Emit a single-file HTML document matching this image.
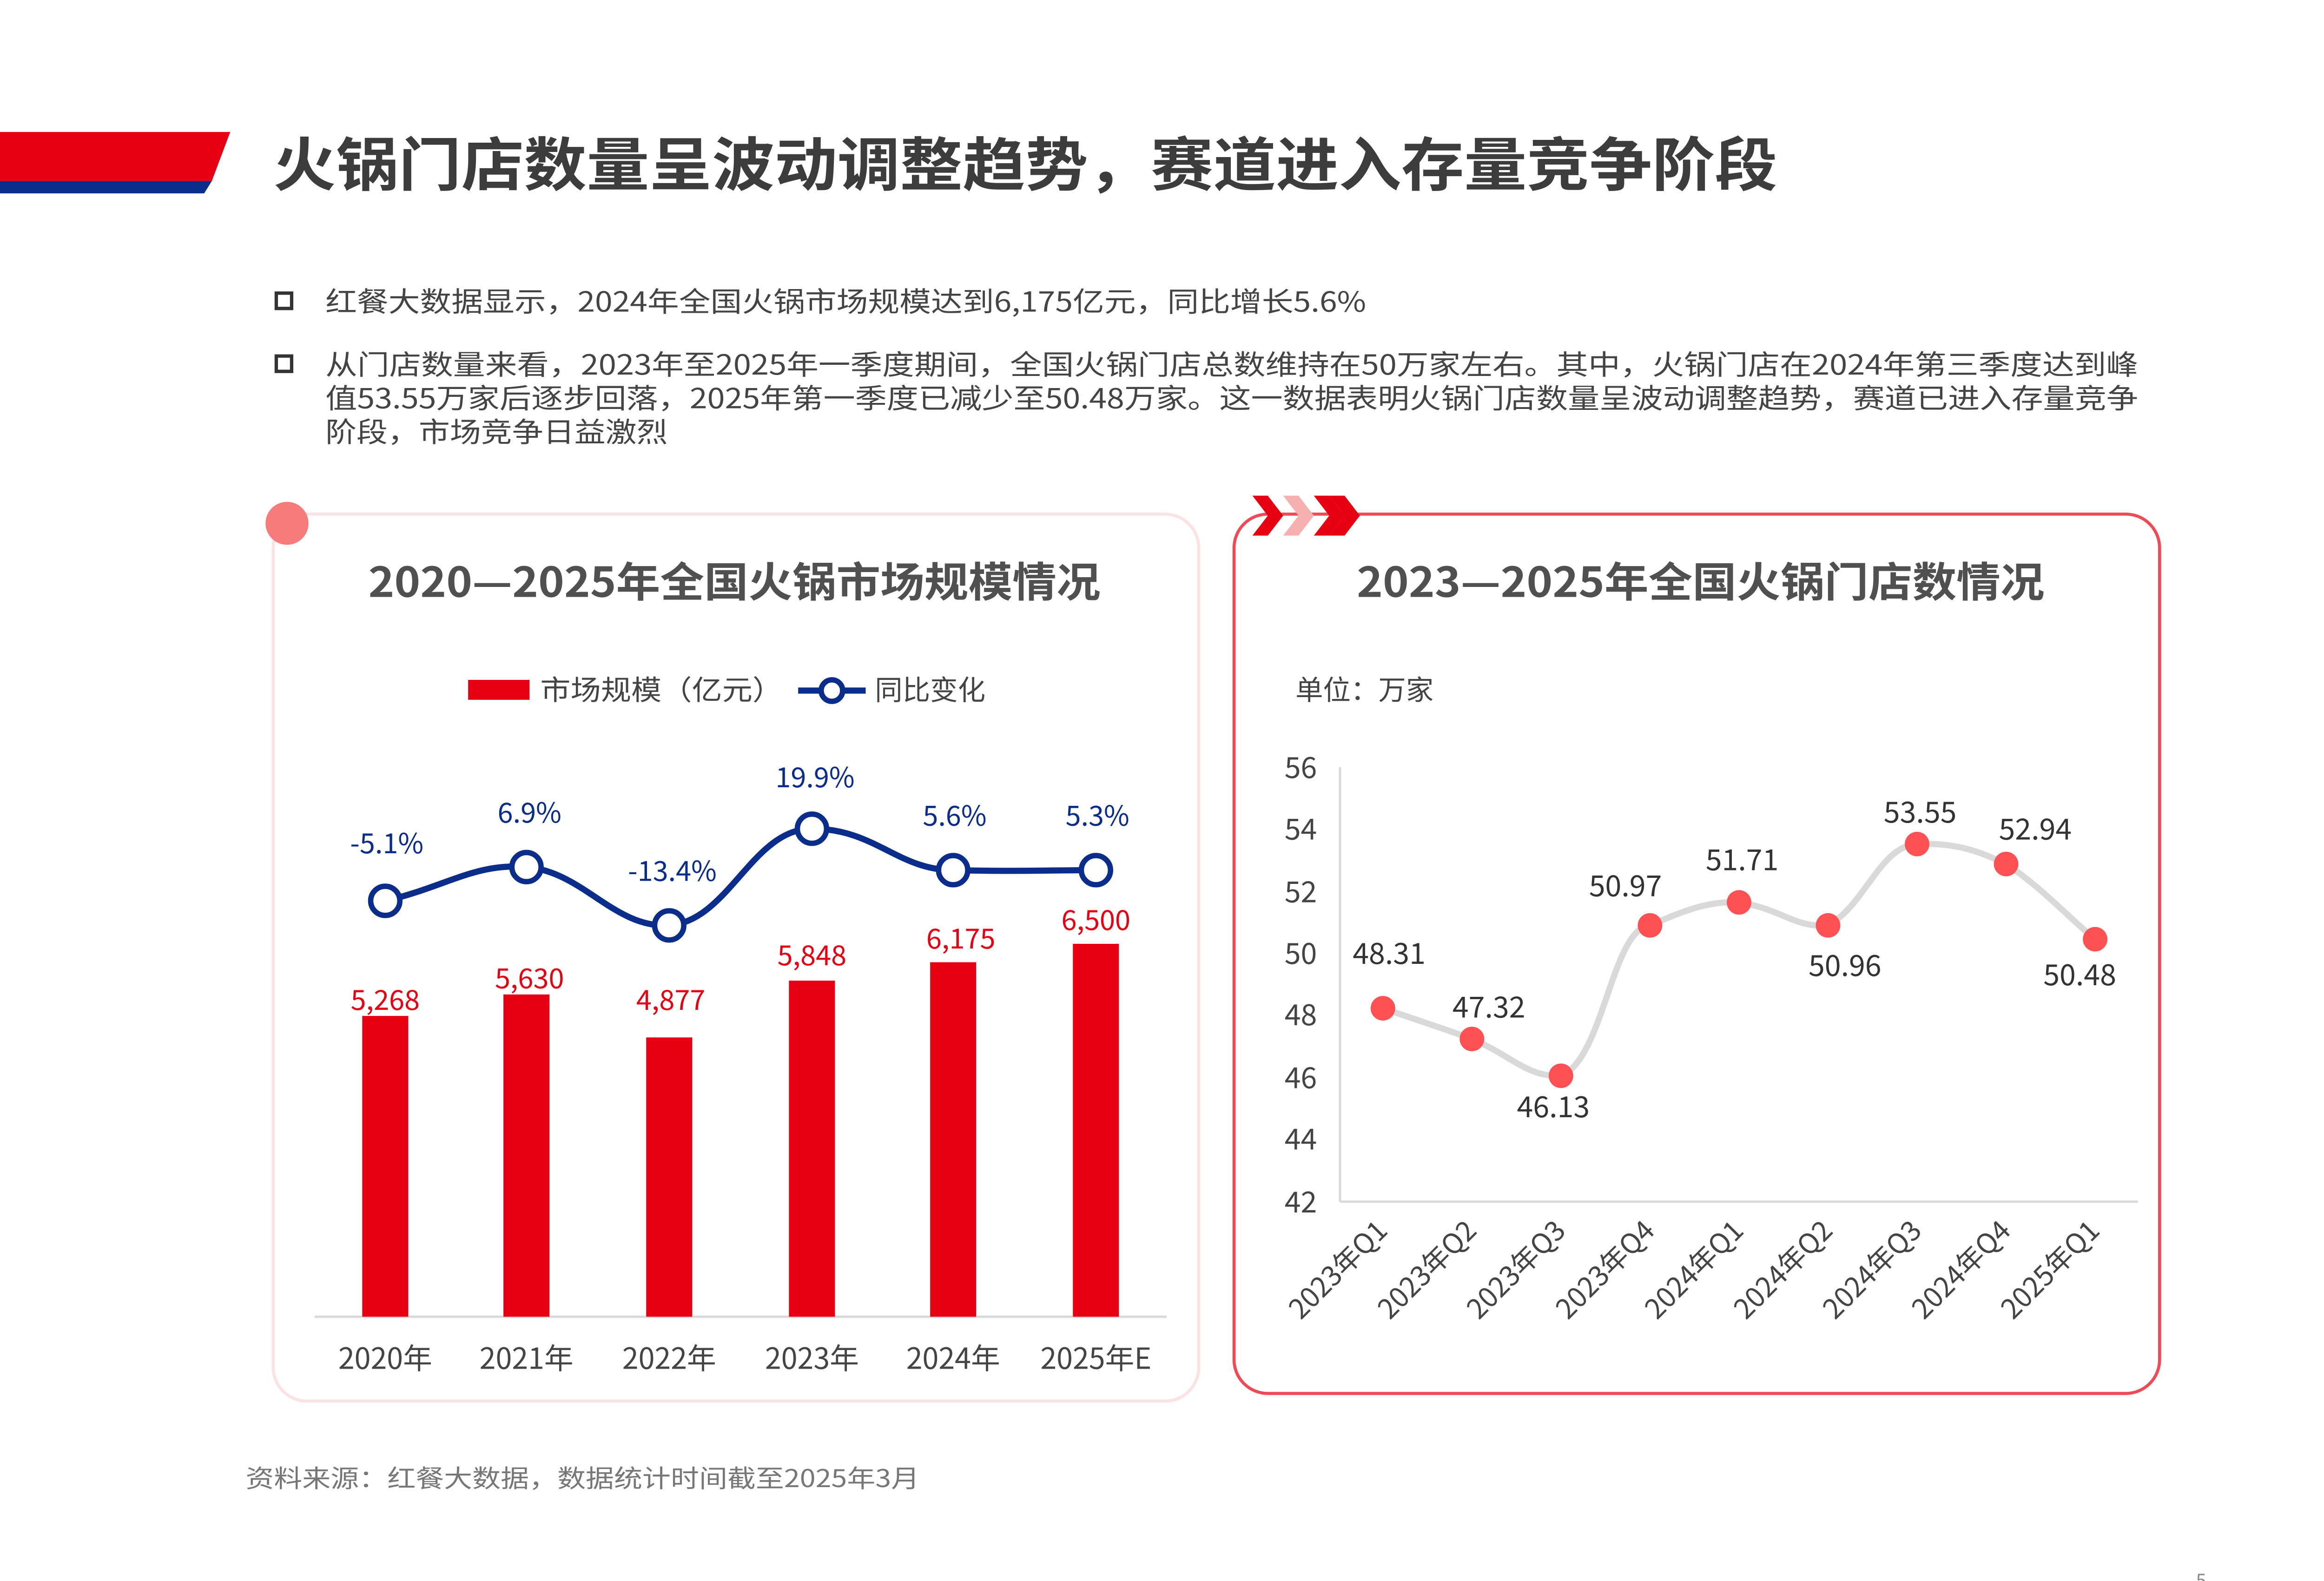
<!DOCTYPE html>
<html><head><meta charset="utf-8"><style>
html,body{margin:0;padding:0;background:#fff;}
svg{display:block;font-family:"Noto Sans CJK SC","Liberation Sans",sans-serif;}
</style></head><body>
<svg width="5102" height="3402" viewBox="0 0 1545 1030.2" xmlns="http://www.w3.org/2000/svg">
<rect width="1545" height="1031" fill="#fff"/>
<!-- header band -->
<polygon points="0,86 150,86 138,118 0,118" fill="#e60012"/>
<polygon points="0,118 138,118 133,126 0,126" fill="#0a2d8c"/>
<text x="178" y="121" font-size="38" font-weight="bold" fill="#3c3c3c" textLength="980" lengthAdjust="spacingAndGlyphs">火锅门店数量呈波动调整趋势，赛道进入存量竞争阶段</text>
<!-- bullets -->
<g font-size="18" fill="#444">
<rect x="180" y="191" width="10" height="10" fill="none" stroke="#333" stroke-width="2.2"/>
<text x="212" y="203" textLength="678" lengthAdjust="spacingAndGlyphs">红餐大数据显示，2024年全国火锅市场规模达到6,175亿元，同比增长5.6%</text>
<rect x="180" y="232" width="10" height="10" fill="none" stroke="#333" stroke-width="2.2"/>
<text x="212" y="244" textLength="1181" lengthAdjust="spacingAndGlyphs">从门店数量来看，2023年至2025年一季度期间，全国火锅门店总数维持在50万家左右。其中，火锅门店在2024年第三季度达到峰</text>
<text x="212" y="266" textLength="1181" lengthAdjust="spacingAndGlyphs">值53.55万家后逐步回落，2025年第一季度已减少至50.48万家。这一数据表明火锅门店数量呈波动调整趋势，赛道已进入存量竞争</text>
<text x="212" y="288" textLength="223" lengthAdjust="spacingAndGlyphs">阶段，市场竞争日益激烈</text>
</g>
<!-- left panel -->
<rect x="178" y="335" width="603" height="578" rx="22" fill="#fff" stroke="#fbe3e3" stroke-width="2"/>
<circle cx="187" cy="341" r="14" fill="#f77b7b"/>
<text x="240" y="389" font-size="27" font-weight="bold" fill="#505050" textLength="477" lengthAdjust="spacingAndGlyphs">2020—2025年全国火锅市场规模情况</text>
<rect x="305" y="443" width="40" height="13" fill="#e60012"/>
<text x="352" y="456" font-size="18" fill="#444" textLength="158" lengthAdjust="spacingAndGlyphs">市场规模（亿元）</text>
<line x1="520" y1="450" x2="564" y2="450" stroke="#0a2d8c" stroke-width="4"/>
<circle cx="542" cy="450" r="7" fill="#fff" stroke="#0a2d8c" stroke-width="3.5"/>
<text x="570" y="456" font-size="18" fill="#444">同比变化</text>
<line x1="205" y1="858" x2="760" y2="858" stroke="#d9d9d9" stroke-width="1.5"/>
<g fill="#e60012">
<rect x="236" y="662" width="30" height="196"/>
<rect x="328" y="648" width="30" height="210"/>
<rect x="421" y="676" width="30" height="182"/>
<rect x="514" y="639" width="30" height="219"/>
<rect x="606" y="627" width="30" height="231"/>
<rect x="699" y="615" width="30" height="243"/>
</g>
<g font-size="18" fill="#e60012" text-anchor="middle">
<text x="251" y="658">5,268</text><text x="345" y="644">5,630</text><text x="437" y="658">4,877</text>
<text x="529" y="629">5,848</text><text x="626" y="618">6,175</text><text x="714" y="606">6,500</text>
</g>
<path d="M251,587 C290,578 310,562 343,565 C380,568 400,605 436,603 C475,600 490,540 529,540 C570,540 585,567 621,567 C660,568 690,567 714,567" fill="none" stroke="#0a2d8c" stroke-width="4"/>
<g fill="#fff" stroke="#0a2d8c" stroke-width="3.5">
<circle cx="251" cy="587" r="9.5"/><circle cx="343" cy="565" r="9.5"/><circle cx="436" cy="603" r="9.5"/>
<circle cx="529" cy="540" r="9.5"/><circle cx="621" cy="567" r="9.5"/><circle cx="714" cy="567" r="9.5"/>
</g>
<g font-size="18" fill="#0a2d8c" text-anchor="middle">
<text x="252" y="556">-5.1%</text><text x="345" y="536">6.9%</text><text x="438" y="574">-13.4%</text>
<text x="531" y="513">19.9%</text><text x="622" y="538">5.6%</text><text x="715" y="538">5.3%</text>
</g>
<g font-size="19" fill="#444" text-anchor="middle">
<text x="251" y="892">2020年</text><text x="343" y="892">2021年</text><text x="436" y="892">2022年</text>
<text x="529" y="892">2023年</text><text x="621" y="892">2024年</text><text x="714" y="892">2025年E</text>
</g>
<!-- right panel -->
<rect x="804" y="335" width="603" height="573" rx="22" fill="#fff" stroke="#ef4a55" stroke-width="2"/>
<g fill="#e60012">
<polygon points="816,323 826,323 836,336 826,349 816,349 826,336"/>
<polygon points="856,323 866,323 876,336 866,349 856,349 866,336"/>
<polygon points="866,323 876,323 886,336 876,349 866,349 876,336"/>
</g>
<polygon points="836,323 846,323 856,336 846,349 836,349 846,336" fill="#f7b0b0"/>
<text x="884" y="389" font-size="27" font-weight="bold" fill="#505050" textLength="448" lengthAdjust="spacingAndGlyphs">2023—2025年全国火锅门店数情况</text>
<text x="844" y="456" font-size="18" fill="#444">单位：万家</text>
<line x1="873" y1="500" x2="873" y2="783" stroke="#d9d9d9" stroke-width="1.5"/>
<line x1="873" y1="783" x2="1393" y2="783" stroke="#d9d9d9" stroke-width="1.5"/>
<g font-size="19" fill="#444" text-anchor="end">
<text x="858" y="507">56</text><text x="858" y="547">54</text><text x="858" y="588">52</text><text x="858" y="628">50</text>
<text x="858" y="668">48</text><text x="858" y="709">46</text><text x="858" y="749">44</text><text x="858" y="790">42</text>
</g>
<path d="M901,657 C930,667 940,670 959,677 C985,688 995,702 1017,701 C1045,690 1050,605 1075,603 C1100,592 1115,587 1133,588 C1160,592 1170,605 1191,603 C1215,590 1225,551 1249,550 C1275,549 1290,555 1307,563 C1330,578 1350,600 1365,612" fill="none" stroke="#d9d9d9" stroke-width="4"/>
<g fill="#fd5154">
<circle cx="901" cy="657" r="8"/><circle cx="959" cy="677" r="8"/><circle cx="1017" cy="701" r="8"/>
<circle cx="1075" cy="603" r="8"/><circle cx="1133" cy="588" r="8"/><circle cx="1191" cy="603" r="8"/>
<circle cx="1249" cy="550" r="8"/><circle cx="1307" cy="563" r="8"/><circle cx="1365" cy="612" r="8"/>
</g>
<g font-size="19" fill="#333" text-anchor="middle">
<text x="905" y="628">48.31</text><text x="970" y="663">47.32</text><text x="1012" y="728">46.13</text>
<text x="1059" y="584">50.97</text><text x="1135" y="567">51.71</text><text x="1202" y="636">50.96</text>
<text x="1251" y="536">53.55</text><text x="1326" y="547">52.94</text><text x="1355" y="642">50.48</text>
</g>
<g font-size="18" fill="#444" text-anchor="end">
<text transform="translate(905,803) rotate(-45)">2023年Q1</text>
<text transform="translate(963,803) rotate(-45)">2023年Q2</text>
<text transform="translate(1021,803) rotate(-45)">2023年Q3</text>
<text transform="translate(1079,803) rotate(-45)">2023年Q4</text>
<text transform="translate(1137,803) rotate(-45)">2024年Q1</text>
<text transform="translate(1195,803) rotate(-45)">2024年Q2</text>
<text transform="translate(1253,803) rotate(-45)">2024年Q3</text>
<text transform="translate(1311,803) rotate(-45)">2024年Q4</text>
<text transform="translate(1369,803) rotate(-45)">2025年Q1</text>
</g>
<text x="160" y="969" font-size="16" fill="#777" textLength="439" lengthAdjust="spacingAndGlyphs">资料来源：红餐大数据，数据统计时间截至2025年3月</text>
<text x="1434" y="1034" font-size="12" fill="#888" text-anchor="middle">5</text>
</svg>
</body></html>
